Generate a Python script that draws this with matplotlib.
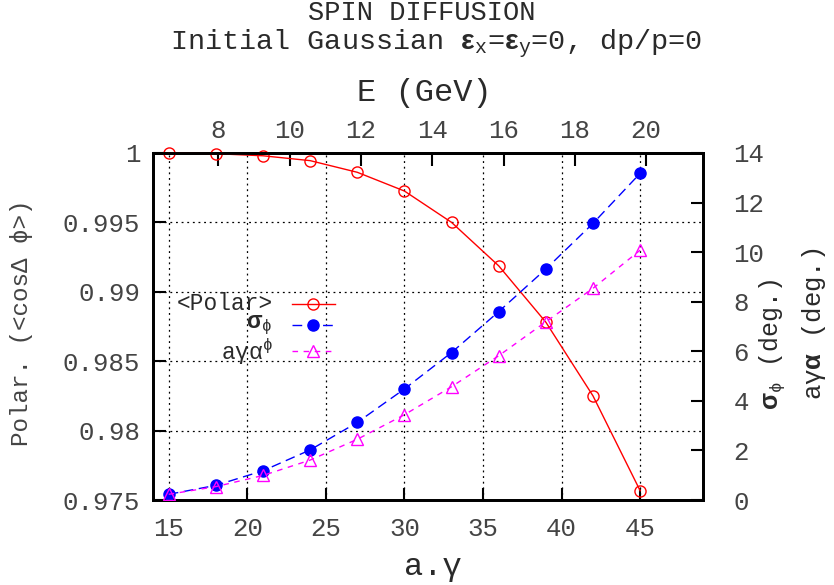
import matplotlib
matplotlib.use('Agg')
import matplotlib.pyplot as plt
from matplotlib.lines import Line2D

plt.rcParams['font.family'] = ['Liberation Mono', 'DejaVu Sans']
plt.rcParams['mathtext.fontset'] = 'custom'
plt.rcParams['mathtext.rm'] = 'Liberation Mono'
plt.rcParams['mathtext.it'] = 'Liberation Mono'
plt.rcParams['mathtext.bf'] = 'Liberation Sans:bold'

# a.gamma values and the three series
a_gamma = [15, 18, 21, 24, 27, 30, 33, 36, 39, 42, 45]
polar = [1.0, 0.99995, 0.9998, 0.99945, 0.99861, 0.99726, 0.995, 0.99187, 0.98781, 0.9825, 0.97567]
sigma_phi = [0.23, 0.59, 1.18, 2.02, 3.13, 4.48, 5.95, 7.6, 9.32, 11.16, 13.18]
ag_alpha = [0.23, 0.54, 0.99, 1.61, 2.45, 3.44, 4.57, 5.82, 7.19, 8.54, 10.08]

x_ticks = [15, 20, 25, 30, 35, 40, 45]
y_ticks = [0.975, 0.98, 0.985, 0.99, 0.995, 1.0]
y_ticklabels = ['0.975', '0.98', '0.985', '0.99', '0.995', '1']
y2_ticks = [0, 2, 4, 6, 8, 10, 12, 14]
e_ticks = [8, 10, 12, 14, 16, 18, 20]
gev_per_ag = 0.440648

txt = '#2a2a2a'
tick_txt = '#444444'

fig = plt.figure(figsize=(8.34, 5.85), dpi=100)
ax = fig.add_axes([153 / 834, 85 / 585, 550 / 834, 347 / 585])
ax2 = ax.twinx()

ax.set_xlim(14, 49)
ax.set_ylim(0.975, 1.0)
ax2.set_ylim(0, 14)

ax.set_xticks(x_ticks)
ax.set_yticks(y_ticks)
ax.set_yticklabels(y_ticklabels)
ax2.set_yticks(y2_ticks)

ax.grid(True, color='black', linestyle=(0, (1.5, 3)), linewidth=0.9)

ax.plot(a_gamma, polar, color='red', linewidth=1, marker='o', markersize=8,
        markerfacecolor='none', markeredgecolor='red', clip_on=False, zorder=3)
ax2.plot(a_gamma, sigma_phi, color='blue', linewidth=1, linestyle=(0, (7, 4)),
         marker='o', markersize=8, markerfacecolor='blue', markeredgecolor='blue', zorder=3)
ax2.plot(a_gamma, ag_alpha, color='magenta', linewidth=1, linestyle=(0, (4, 4)),
         marker='^', markersize=8, markerfacecolor='none', markeredgecolor='magenta', zorder=3)

for a in (ax, ax2):
    for s in a.spines.values():
        s.set_linewidth(2)

ax.tick_params(axis='both', direction='in', length=9, width=1.5, labelsize=18.5, pad=9,
               labelcolor=tick_txt)
ax.tick_params(axis='x', pad=12)
ax2.tick_params(axis='y', direction='in', length=9, width=1.5, labelsize=18.5, pad=22,
                labelcolor=tick_txt)

top = ax.secondary_xaxis('top', functions=(lambda x: x * gev_per_ag, lambda e: e / gev_per_ag))
top.set_xticks(e_ticks)
top.tick_params(direction='in', length=9, width=1.5, labelsize=18.5, pad=7, labelcolor=tick_txt)
top.spines['top'].set_linewidth(2)

# legend drawn gnuplot style: right-aligned label, sample to its right
leg_rows = [
    ('<Polar>', 0.565, dict(color='red', linestyle='-', marker='o', markerfacecolor='none')),
    (r'$\mathbf{σ}_{ϕ}$', 0.503, dict(color='blue', linestyle=(0, (7, 4)), marker='o', markerfacecolor='blue')),
    ('aγα$^{ϕ}$', 0.428, dict(color='magenta', linestyle=(0, (4, 4)), marker='^', markerfacecolor='none')),
]
for label, yy, style in leg_rows:
    ax2.add_line(Line2D([0.2527, 0.331], [yy, yy], transform=ax2.transAxes, linewidth=1,
                        color=style['color'], linestyle=style['linestyle']))
    ax2.add_line(Line2D([0.2918], [yy], transform=ax2.transAxes, linestyle='none',
                        marker=style['marker'], markersize=8, markeredgecolor=style['color'],
                        markerfacecolor=style['markerfacecolor']))
    ax2.text(0.218, yy, label, transform=ax2.transAxes, ha='right', va='center',
             fontsize=16.5, color=txt)

fig.text(0.506, 1 - 13 / 585, 'SPIN DIFFUSION', ha='center', va='center', fontsize=19.5, color=txt)
fig.text(0.523, 1 - 44 / 585, r'Initial Gaussian $\mathbf{ε}_{\mathrm{x}}$=$\mathbf{ε}_{\mathrm{y}}$=0, dp/p=0',
         ha='center', va='center', fontsize=20.5, color=txt)
fig.text(0.509, 1 - 93 / 585, 'E (GeV)', ha='center', va='center', fontsize=23, color=txt)
fig.text(0.519, 1 - 567 / 585, 'a.γ', ha='center', va='center', fontsize=23, color=txt)
fig.text(22 / 834, 1 - 323 / 585, 'Polar. (<cosΔ ϕ>)', rotation=90, ha='center', va='center',
         fontsize=17.5, color=tick_txt)
fig.text(772 / 834, 1 - 410 / 585, r'$\mathbf{σ}_{ϕ}$ (deg.)', rotation=90, ha='center', va='bottom',
         fontsize=18, color=txt)
fig.text(814 / 834, 1 - 400 / 585, r'aγ$\mathbf{α}$ (deg.)', rotation=90, ha='center', va='bottom',
         fontsize=18.5, color=txt)

fig.savefig('out.png', dpi=100)
